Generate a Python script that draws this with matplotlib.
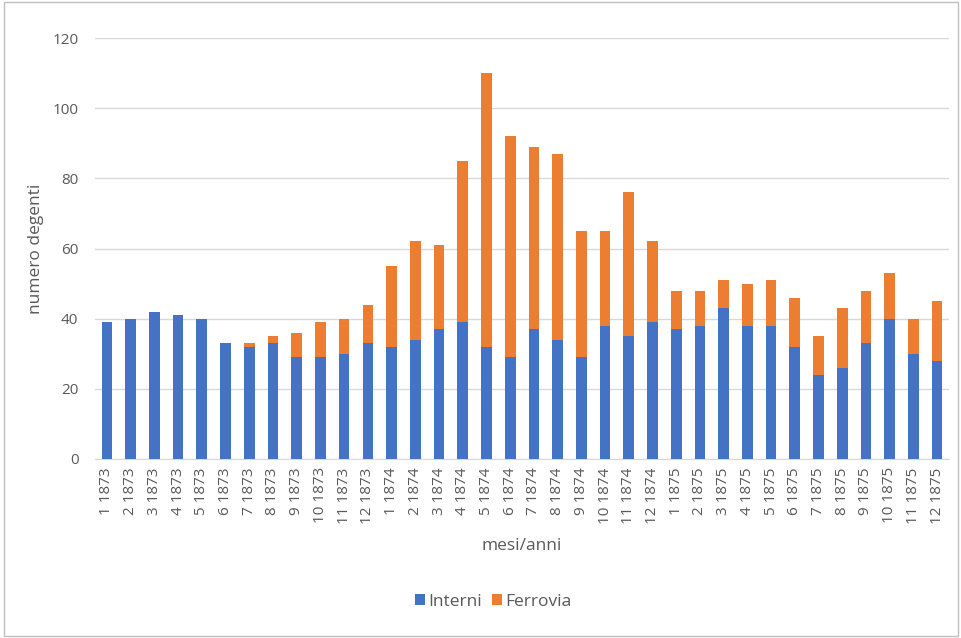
import numpy as np
import matplotlib.pyplot as plt
from matplotlib.patches import Rectangle

plt.rcParams['font.family'] = ['Open Sans', 'DejaVu Sans']

# month/year labels
mesi = [1, 2, 3, 4, 5, 6, 7, 8, 9, 10, 11, 12] * 3
anni = [1873] * 12 + [1874] * 12 + [1875] * 12
labels = [f"{m} {a}" for m, a in zip(mesi, anni)]

interni = [39, 40, 42, 41, 40, 33, 32, 33, 29, 29, 30, 33,
           32, 34, 37, 39, 32, 29, 37, 34, 29, 38, 35, 39,
           37, 38, 43, 38, 38, 32, 24, 26, 33, 40, 30, 28]
ferrovia = [0, 0, 0, 0, 0, 0, 1, 2, 7, 10, 10, 11,
            23, 28, 24, 46, 78, 63, 52, 53, 36, 27, 41, 23,
            11, 10, 8, 12, 13, 14, 11, 17, 15, 13, 10, 17]

blu = '#4472C4'
arancio = '#ED7D31'
testo = '#595959'

fig = plt.figure(figsize=(9.62, 6.38), dpi=100)
ax = fig.add_axes([0.0988, 0.2806, 0.8877, 0.6598])

x = np.arange(len(labels))
ax.bar(x, interni, width=0.45, color=blu, label='Interni', zorder=3)
ax.bar(x, ferrovia, width=0.45, bottom=interni, color=arancio, label='Ferrovia', zorder=3)

ax.set_xlim(-0.5, len(labels) - 0.5)
ax.set_ylim(0, 120)
ax.set_yticks(range(0, 121, 20))
ax.yaxis.grid(True, color='#D9D9D9', linewidth=1, zorder=0)
ax.set_xticks(x)
ax.set_xticklabels(labels, rotation=90, ha='center', va='top')
ax.tick_params(axis='both', length=0, labelsize=11, colors=testo, pad=6)
ax.tick_params(axis='y', pad=12)
for s in ['top', 'right', 'left']:
    ax.spines[s].set_visible(False)
ax.spines['bottom'].set_color('#D9D9D9')

ax.set_ylabel('numero degenti', fontsize=12.5, color=testo, labelpad=6)
ax.set_xlabel('mesi/anni', fontsize=12.5, color=testo, labelpad=10)

fig.legend(loc='center', bbox_to_anchor=(0.513, 0.057), ncol=2, frameon=False,
           fontsize=12.5, handlelength=0.55, handleheight=0.55, handletextpad=0.2,
           columnspacing=0.6, labelcolor=testo)

fig.patches.append(Rectangle((0.004, 0.003), 0.992, 0.994, transform=fig.transFigure,
                             fill=False, edgecolor='#BFBFBF', linewidth=1))

fig.savefig('out.png', dpi=100)
